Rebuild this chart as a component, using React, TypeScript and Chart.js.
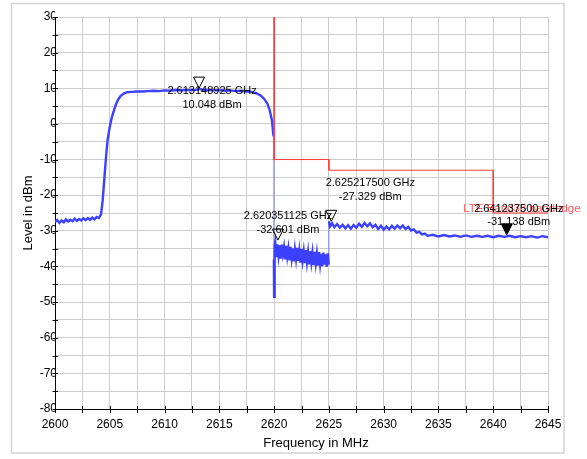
import React, { useEffect, useRef } from "react";
import { Chart, registerables } from "chart.js";

Chart.register(...registerables);

// ---------------- data ----------------
const xMinMHz = 2600;
const xMaxMHz = 2645;
const yMinDbm = -80;
const yMaxDbm = 30;

const xTickLabels = ["2600", "2605", "2610", "2615", "2620", "2625", "2630", "2635", "2640", "2645"];
const yTickLabels = ["-80", "-70", "-60", "-50", "-40", "-30", "-20", "-10", "0", "10", "20", "30"];

// measured spectrum trace (frequency in MHz, level in dBm)
const traceFreqMHz = [
  2600.0, 2600.2, 2600.4, 2600.6, 2600.8, 2601.0, 2601.2, 2601.4, 2601.6, 2601.8,
  2602.0, 2602.2, 2602.4, 2602.6, 2602.8, 2603.0, 2603.2, 2603.4, 2603.6, 2603.8,
  2604.0, 2604.2, 2604.35, 2604.5, 2604.65, 2604.8, 2605.0, 2605.2, 2605.4, 2605.6,
  2605.8, 2606.0, 2606.3, 2606.6, 2607.0, 2607.5, 2608.0, 2608.5, 2609.0, 2609.5,
  2610.0, 2610.5, 2611.0, 2611.5, 2612.0, 2612.5, 2613.0, 2613.15, 2613.5, 2614.0,
  2614.5, 2615.0, 2615.5, 2616.0, 2616.5, 2617.0, 2617.5, 2618.0, 2618.4, 2618.8,
  2619.1, 2619.4, 2619.6, 2619.8, 2619.95, 2619.98, 2620.0, 2620.02, 2620.08, 2620.1,
  2620.2, 2620.3, 2620.4, 2620.5, 2620.6, 2620.7, 2620.8, 2620.9, 2621.0, 2621.1,
  2621.2, 2621.3, 2621.4, 2621.5, 2621.6, 2621.7, 2621.8, 2621.9, 2622.0, 2622.1,
  2622.2, 2622.3, 2622.4, 2622.5, 2622.6, 2622.7, 2622.8, 2622.9, 2623.0, 2623.1,
  2623.2, 2623.3, 2623.4, 2623.5, 2623.6, 2623.7, 2623.8, 2623.9, 2624.0, 2624.1,
  2624.2, 2624.3, 2624.4, 2624.5, 2624.6, 2624.7, 2624.8, 2624.9, 2624.98, 2625.0,
  2625.1, 2625.3, 2625.5, 2625.75, 2626.0, 2626.25, 2626.5, 2626.75, 2627.0, 2627.25,
  2627.5, 2627.75, 2628.0, 2628.25, 2628.5, 2628.75, 2629.0, 2629.25, 2629.5, 2629.75,
  2630.0, 2630.25, 2630.5, 2630.75, 2631.0, 2631.25, 2631.5, 2631.75, 2632.0, 2632.25,
  2632.5, 2632.75, 2633.0, 2633.25, 2633.5, 2633.75, 2634.0, 2634.5, 2635.0, 2635.5,
  2636.0, 2636.5, 2637.0, 2637.5, 2638.0, 2638.5, 2639.0, 2639.5, 2640.0, 2640.5,
  2641.0, 2641.5, 2642.0, 2642.5, 2643.0, 2643.5, 2644.0, 2644.5, 2645.0,
];
const traceLevelDbm = [
  -27.6, -27.0, -27.8, -27.1, -27.6, -26.8, -27.4, -26.9, -27.3, -26.6,
  -27.2, -26.7, -27.1, -26.5, -27.0, -26.4, -26.9, -26.3, -26.8, -26.1,
  -26.4, -25.4, -21.5, -15.5, -9.5, -4.5, -0.8, 2.0, 4.0, 5.8,
  7.0, 7.9, 8.6, 8.9, 9.0, 9.1, 9.1, 9.2, 9.3, 9.2,
  9.4, 9.3, 9.5, 9.4, 9.5, 9.5, 9.6, 9.9, 9.5, 9.5,
  9.4, 9.5, 9.3, 9.4, 9.2, 9.3, 9.1, 9.0, 8.6, 7.9,
  7.0, 5.6, 3.8, 1.0, -3.5, -38.0, -48.5, -39.0, -34.0, -33.2,
  -37.4, -33.8, -36.9, -34.1, -37.8, -33.9, -36.5, -34.6, -38.0, -34.2,
  -37.2, -35.0, -38.3, -34.5, -37.6, -34.9, -38.6, -35.3, -37.9, -34.8,
  -38.4, -35.6, -38.9, -35.1, -38.2, -35.8, -39.1, -35.4, -38.7, -36.0,
  -39.4, -35.7, -38.8, -36.2, -39.6, -35.9, -39.0, -36.4, -39.8, -36.0,
  -39.3, -36.5, -39.9, -36.1, -39.5, -36.6, -40.1, -36.3, -39.5, -27.3,
  -28.8, -27.9, -29.0, -28.1, -29.1, -28.3, -29.3, -28.4, -29.4, -28.4,
  -29.1, -28.0, -28.9, -27.8, -28.7, -27.9, -29.0, -28.3, -29.5, -28.6,
  -29.7, -28.8, -29.6, -28.6, -29.4, -28.5, -29.3, -28.5, -29.5, -28.9,
  -29.9, -29.6, -30.5, -30.3, -31.0, -30.8, -31.4, -31.1, -31.6, -31.2,
  -31.6, -31.3, -31.7, -31.3, -31.7, -31.4, -31.7, -31.4, -31.8, -31.4,
  -31.7, -31.4, -31.8, -31.5, -31.8, -31.5, -31.9, -31.5, -31.8,
];

// limit line
const limitName = "LTE Band38 bandedge";
const limitFreqMHz = [2620, 2620, 2625, 2625, 2640, 2640, 2645];
const limitLevelDbm = [30, -10, -10, -13, -13, -25, -25];

// markers
const markerFreqMHz = [2613.148925, 2620.351125, 2625.2175, 2641.2375];
const markerLevelDbm = [10.048, -32.601, -27.329, -31.138];
const markerActive = [false, false, false, true];

// ---------------- styles ----------------
const FONT = '"Liberation Sans", Arial, sans-serif';
const traceColor = "rgb(60,64,255)";
const traceJumpColor = "rgba(60,64,255,0.4)";
const limitColor = "rgb(255,60,60)";
const limitTextColor = "rgb(255,90,90)";
const gridColor = "rgb(204,204,204)";
// label offsets (pixels) relative to each marker point: first line centre
const markerLabelOffsets = [
  { dx: 13, dy: 3 },
  { dx: 10, dy: -24 },
  { dx: 39, dy: -38 },
  { dx: 12, dy: -26 },
];
const limitLabelOffset = { dx: -30, dy: -4 };

const overlayPlugin = {
  id: "overlay",
  beforeDraw(chart: any) {
    const ctx = chart.ctx;
    ctx.save();
    ctx.fillStyle = "#fff";
    ctx.fillRect(0, 0, chart.width, chart.height);
    ctx.strokeStyle = "rgb(212,212,212)";
    ctx.lineWidth = 1.5;
    ctx.strokeRect(11.5, 3.5, 552.5, 449.5);
    ctx.restore();
  },
  afterDraw(chart: any) {
    const ctx = chart.ctx;
    const xs = chart.scales.x;
    const ys = chart.scales.y;
    const area = chart.chartArea;
    ctx.save();
    // tick marks crossing the axes
    ctx.strokeStyle = "#000";
    ctx.lineWidth = 1;
    ctx.beginPath();
    xs.ticks.forEach((t: any) => {
      const px = Math.round(xs.getPixelForValue(t.value)) + 0.5;
      ctx.moveTo(px, area.bottom - 3);
      ctx.lineTo(px, area.bottom + 4);
    });
    ys.ticks.forEach((t: any) => {
      const py = Math.round(ys.getPixelForValue(t.value)) + 0.5;
      ctx.moveTo(area.left - 2.5, py);
      ctx.lineTo(area.left + 3, py);
    });
    ctx.stroke();

    // axis titles
    ctx.fillStyle = "#000";
    ctx.font = `13px ${FONT}`;
    ctx.textAlign = "center";
    ctx.textBaseline = "middle";
    ctx.fillText("Frequency in MHz", 316, 443);
    ctx.save();
    ctx.translate(28, 213);
    ctx.rotate(-Math.PI / 2);
    ctx.fillText("Level in dBm", 0, 0);
    ctx.restore();

    // limit line name
    const lx = xs.getPixelForValue(limitFreqMHz[limitFreqMHz.length - 2]);
    const ly = ys.getPixelForValue(limitLevelDbm[limitLevelDbm.length - 1]);
    ctx.fillStyle = limitTextColor;
    ctx.font = `11.5px ${FONT}`;
    ctx.textAlign = "left";
    ctx.fillText(limitName, lx + limitLabelOffset.dx, ly + limitLabelOffset.dy);

    // markers
    markerFreqMHz.forEach((f, i) => {
      const px = xs.getPixelForValue(f);
      const py = ys.getPixelForValue(markerLevelDbm[i]);
      const w = 11;
      const h = 11;
      ctx.beginPath();
      ctx.moveTo(px, py);
      ctx.lineTo(px - w / 2, py - h);
      ctx.lineTo(px + w / 2, py - h);
      ctx.closePath();
      ctx.lineWidth = 1;
      ctx.strokeStyle = "#000";
      if (markerActive[i]) {
        ctx.fillStyle = "#000";
        ctx.fill();
      }
      ctx.stroke();
      const off = markerLabelOffsets[i];
      ctx.fillStyle = "#000";
      ctx.font = `11px ${FONT}`;
      ctx.textAlign = "center";
      ctx.textBaseline = "middle";
      ctx.fillText(`${(f / 1000).toFixed(9)} GHz`, px + off.dx, py + off.dy);
      ctx.fillText(`${markerLevelDbm[i].toFixed(3)} dBm`, px + off.dx, py + off.dy + 13.5);
    });
    ctx.restore();
  },
};

export default function App() {
  const canvasRef = useRef<HTMLCanvasElement | null>(null);

  useEffect(() => {
    const canvas = canvasRef.current;
    if (!canvas) return;
    const traceData = traceFreqMHz.map((f, i) => ({ x: f, y: traceLevelDbm[i] }));
    const limitData = limitFreqMHz.map((f, i) => ({ x: f, y: limitLevelDbm[i] }));

    const chart = new Chart(canvas, {
      type: "line",
      data: {
        datasets: [
          {
            label: limitName,
            data: limitData,
            borderColor: limitColor,
            borderWidth: 1,
            pointRadius: 0,
            tension: 0,
            fill: false,
          },
          {
            label: "Trace",
            data: traceData,
            borderColor: traceColor,
            borderWidth: 2.4,
            pointRadius: 0,
            tension: 0,
            fill: false,
            segment: {
              borderColor: (c: any) =>
                Math.abs(c.p1.parsed.y - c.p0.parsed.y) > 11 && Math.abs(c.p1.parsed.x - c.p0.parsed.x) < 0.05
                  ? traceJumpColor
                  : traceColor,
              borderWidth: (c: any) =>
                Math.abs(c.p1.parsed.y - c.p0.parsed.y) > 11 && Math.abs(c.p1.parsed.x - c.p0.parsed.x) < 0.05
                  ? 1.5
                  : 2.4,
            },
          },
        ],
      },
      options: {
        animation: false,
        responsive: false,
        devicePixelRatio: 1,
        layout: { padding: { left: 0, top: 17, right: 39, bottom: 0 } },
        plugins: {
          legend: { display: false },
          tooltip: { enabled: false },
          title: { display: false },
        },
        scales: {
          x: {
            type: "linear",
            min: xMinMHz,
            max: xMaxMHz,
            afterFit: (s: any) => {
              s.height = 50;
            },
            ticks: {
              stepSize: 2.5,
              autoSkip: false,
              maxRotation: 0,
              padding: 8,
              color: "#000",
              font: { family: FONT, size: 12 },
              callback: (v: any) => {
                const s = String(Math.round(Number(v)));
                return Number(v) % 5 === 0 && xTickLabels.includes(s) ? s : "";
              },
            },
            grid: { color: gridColor, lineWidth: 1, drawTicks: false },
            border: { display: true, color: "#000", width: 1 },
          },
          y: {
            type: "linear",
            min: yMinDbm,
            max: yMaxDbm,
            afterFit: (s: any) => {
              s.width = 55;
            },
            ticks: {
              stepSize: 5,
              autoSkip: false,
              padding: -2,
              color: "#000",
              font: { family: FONT, size: 12 },
              callback: (v: any) => {
                const s = String(Math.round(Number(v)));
                return Number(v) % 10 === 0 && yTickLabels.includes(s) ? s : "";
              },
            },
            grid: { color: gridColor, lineWidth: 1, drawTicks: false },
            border: { display: true, color: "#000", width: 1 },
          },
        },
      },
      plugins: [overlayPlugin],
    });
    return () => chart.destroy();
  }, []);

  return (
    <div style={{ position: "fixed", left: 0, top: 0, width: 587, height: 459, background: "#fff" }}>
      <canvas ref={canvasRef} width={587} height={459} style={{ display: "block" }} />
    </div>
  );
}
